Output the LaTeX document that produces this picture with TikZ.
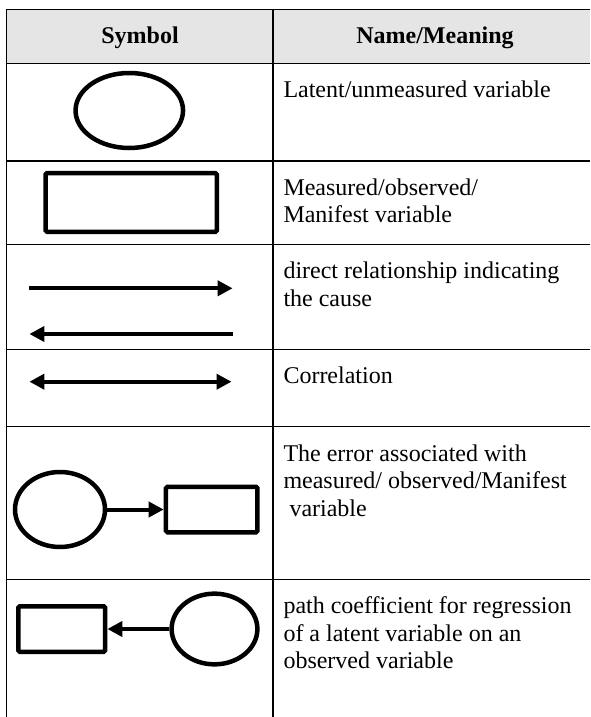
\documentclass[tikz,border=0pt]{standalone}
\usepackage{fontspec}
\setmainfont{Liberation Serif}
\usetikzlibrary{shapes.geometric,arrows.meta}

\begin{document}
\begin{tikzpicture}[x=1pt, y=-1pt,
	latent/.style={ellipse, draw, line width=4.5pt, inner sep=0pt},
	observed/.style={rectangle, draw, line width=4.5pt, rounded corners=1.5pt, inner sep=0pt},
	rule/.style={line width=1.1pt},
	causal/.style={line width=4pt, -{Triangle[length=15pt, width=15pt]}},
	corr/.style={line width=4pt, {Triangle[length=15pt, width=15pt]}-{Triangle[length=15pt, width=15pt]}},
	meaning/.style={anchor=base west, align=left, inner sep=0pt, font=\fontsize{24}{27.8}\selectfont},
	header/.style={anchor=base, inner sep=0pt, font=\fontsize{24}{27.8}\selectfont\bfseries}]
	\useasboundingbox (0,0) rectangle (590,717);
	\fill[black!10] (6.5,9.3) rectangle (590,63.3);
	\foreach \y in {9.3,63.3,161,244.3,349.3,426.7,579.3}
		\draw[rule] (6.5,\y) -- (590,\y);
	\foreach \x in {6.5,273}
		\draw[rule] (\x,9.3) -- (\x,717);
	\node[header] (symbol) at (140,44) {Symbol};
	\node[header] (name) at (435,44) {Name/Meaning};
	\node[latent, minimum width=107.5pt, minimum height=75pt] (lat) at (129.3,110.5) {};
	\node[observed, minimum width=171.2pt, minimum height=58.8pt] (obs) at (131.2,202.4) {};
	\coordinate (dir1a) at (29.4,288.3);
	\coordinate (dir1b) at (232.6,288.3);
	\coordinate (dir2a) at (232.6,334);
	\coordinate (dir2b) at (29.4,334);
	\coordinate (cora) at (29.4,381.7);
	\coordinate (corb) at (231.5,381.7);
	\draw[causal] (dir1a) -- (dir1b);
	\draw[causal] (dir2a) -- (dir2b);
	\draw[corr] (cora) -- (corb);
	\node[latent, minimum width=90pt, minimum height=75pt] (err) at (60,509.5) {};
	\node[observed, minimum width=91.5pt, minimum height=45.5pt] (errobs) at (211.7,509.5) {};
	\draw[causal] (err) -- (errobs);
	\node[observed, minimum width=86.8pt, minimum height=45.5pt] (regobs) at (61.7,629) {};
	\node[latent, minimum width=85.8pt, minimum height=70.7pt] (reglat) at (214.5,629) {};
	\draw[causal] (reglat) -- (regobs);
	\node[meaning] (t1) at (283.3,97.7) {Latent/unmeasured variable};
	\node[meaning] (t2) at (283.3,222.8) {Measured/observed/\\Manifest variable};
	\node[meaning] (t3) at (283.3,306.1) {direct relationship indicating\\the cause};
	\node[meaning] (t4) at (283.3,383.3) {Correlation};
	\node[meaning] (t5) at (283.3,516.6) {The error associated with\\measured/ observed/Manifest\\\hspace*{6pt}variable};
	\node[meaning] (t6) at (283.3,668.9) {path coefficient for regression\\of a latent variable on an\\observed variable};
\end{tikzpicture}
\end{document}
